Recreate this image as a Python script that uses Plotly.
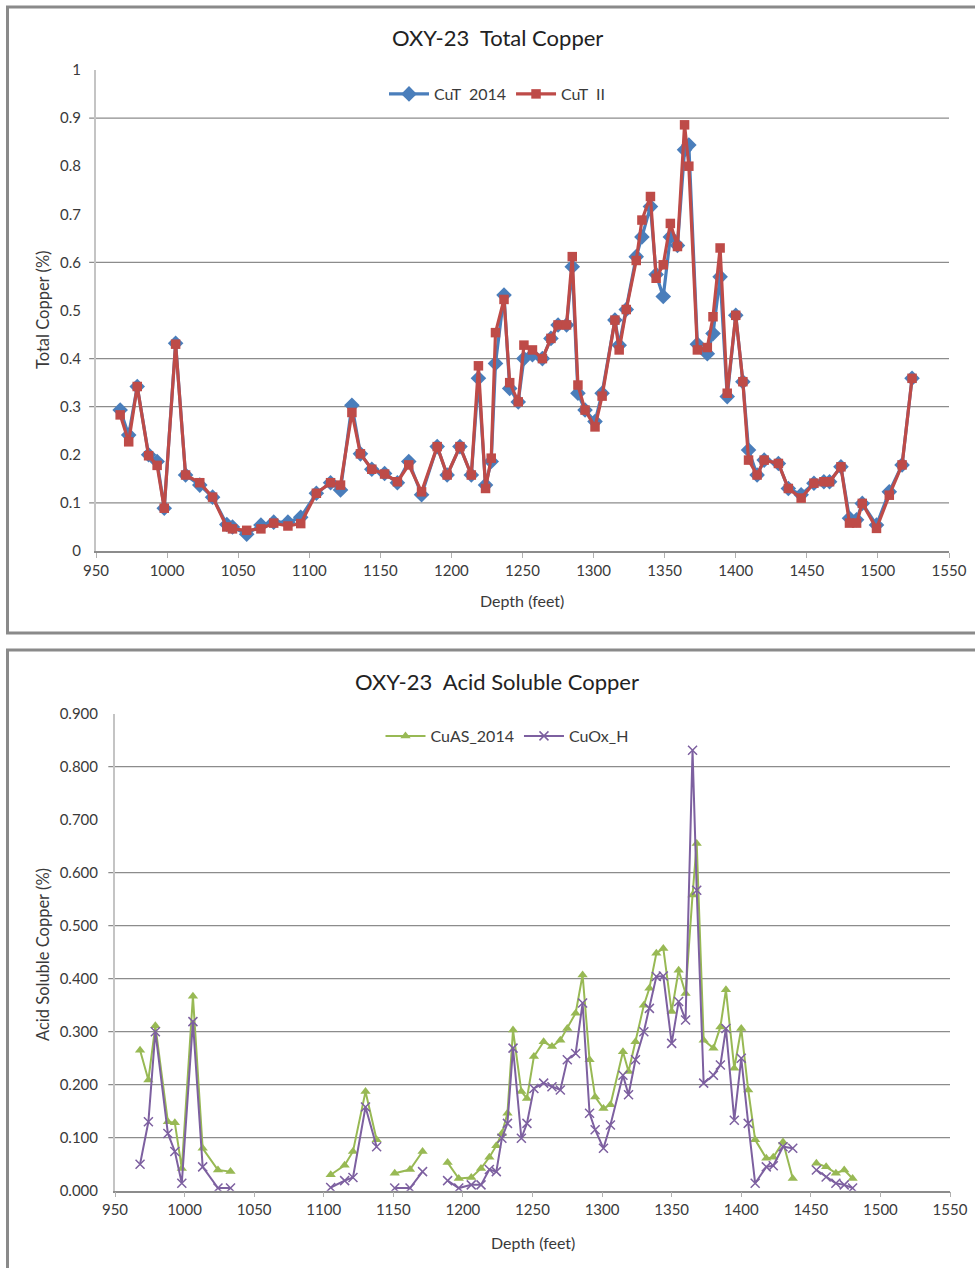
import plotly.graph_objects as go

# ---------------- data: top chart (Total Copper) ----------------
depth_cut = [967, 973, 979, 987, 993, 998, 1006, 1013, 1023, 1032, 1042, 1046, 1056, 1066, 1075,
             1085, 1094, 1105, 1115, 1122, 1130, 1136, 1144, 1153, 1162, 1170, 1179, 1190, 1197, 1206,
             1214, 1219, 1224, 1228, 1231, 1237, 1241, 1247, 1251, 1257, 1264, 1270, 1275, 1281, 1285,
             1289, 1294, 1301, 1306, 1315, 1318, 1323, 1330, 1334, 1340, 1344, 1349, 1354, 1359, 1364,
             1367, 1373, 1380, 1384, 1389, 1394, 1400, 1405, 1409, 1415, 1420, 1430, 1437, 1446, 1455,
             1462, 1466, 1474, 1480, 1485, 1489, 1499, 1508, 1517, 1524]
cut_2014 = [0.293, 0.241, 0.342, 0.200, 0.186, 0.089, 0.432, 0.158, 0.137, 0.112, 0.055, 0.050, 0.035, 0.054, 0.060,
            0.060, 0.070, 0.120, 0.142, 0.127, 0.303, 0.202, 0.170, 0.161, 0.142, 0.186, 0.117, 0.217, 0.158, 0.217,
            0.158, 0.359, 0.137, 0.186, 0.390, 0.532, 0.338, 0.310, 0.400, 0.408, 0.400, 0.442, 0.470, 0.470, 0.591,
            0.328, 0.293, 0.269, 0.328, 0.480, 0.428, 0.502, 0.612, 0.653, 0.716, 0.575, 0.529, 0.653, 0.635, 0.834,
            0.844, 0.430, 0.410, 0.452, 0.570, 0.321, 0.490, 0.352, 0.210, 0.158, 0.189, 0.182, 0.130, 0.117, 0.141,
            0.144, 0.144, 0.175, 0.068, 0.065, 0.099, 0.054, 0.123, 0.179, 0.359]
cut_ii = [0.283, 0.227, 0.342, 0.198, 0.178, 0.089, 0.430, 0.158, 0.142, 0.112, 0.050, 0.046, 0.043, 0.046, 0.058,
          0.052, 0.057, 0.120, 0.142, 0.137, 0.288, 0.202, 0.170, 0.160, 0.144, 0.179, 0.123, 0.217, 0.158, 0.217,
          0.158, 0.385, 0.130, 0.193, 0.454, 0.523, 0.350, 0.310, 0.428, 0.418, 0.400, 0.442, 0.470, 0.470, 0.612,
          0.345, 0.293, 0.258, 0.322, 0.480, 0.418, 0.502, 0.604, 0.688, 0.737, 0.567, 0.595, 0.681, 0.633, 0.886,
          0.800, 0.418, 0.423, 0.487, 0.630, 0.328, 0.490, 0.352, 0.189, 0.158, 0.189, 0.182, 0.130, 0.110, 0.141,
          0.144, 0.144, 0.175, 0.058, 0.058, 0.099, 0.047, 0.116, 0.179, 0.359]

# ---------------- data: bottom chart (Acid Soluble Copper) ----------------
depth_as = [968, 974, 979, 988, 993, 998, 1006, 1013, 1024, 1033, 1060,
            1105, 1115, 1121, 1130, 1138, 1145,
            1151, 1162, 1171, 1180,
            1189, 1197, 1206, 1213, 1219, 1224, 1228, 1232, 1236, 1242, 1246, 1251, 1258, 1264, 1270,
            1275, 1281, 1286, 1291, 1295, 1301, 1306, 1315, 1319, 1324, 1330, 1334, 1339, 1344, 1350,
            1355, 1360, 1365, 1368, 1373, 1380, 1385, 1389, 1395, 1400, 1405, 1410, 1418, 1423, 1430, 1437, 1445,
            1454, 1461, 1468, 1474, 1480]
cuas_2014 = [0.265, 0.209, 0.311, 0.130, 0.128, 0.042, 0.367, 0.080, 0.039, 0.036, None,
             0.030, 0.048, 0.074, 0.187, 0.096, None,
             0.033, 0.040, 0.074, None,
             0.053, 0.023, 0.025, 0.042, 0.063, 0.085, 0.108, 0.146, 0.303, 0.187, 0.174, 0.253, 0.281, 0.272, 0.284,
             0.306, 0.335, 0.407, 0.247, 0.177, 0.155, 0.162, 0.262, 0.225, 0.281, 0.350, 0.382, 0.448, 0.457, 0.338,
             0.416, 0.372, 0.558, 0.655, 0.284, 0.269, 0.309, 0.379, 0.231, 0.306, 0.190, 0.096, 0.061, 0.063, 0.092, 0.023, None,
             0.052, 0.045, 0.033, 0.039, 0.023]
cuox_h = [0.050, 0.130, 0.300, 0.108, 0.074, 0.014, 0.319, 0.045, 0.005, 0.005, None,
          0.006, 0.019, 0.025, 0.158, 0.083, None,
          0.005, 0.005, 0.036, None,
          0.019, 0.005, 0.011, 0.011, 0.040, 0.036, 0.099, 0.127, 0.269, 0.099, 0.127, 0.193, 0.203, 0.196, 0.190,
          0.247, 0.259, 0.354, 0.146, 0.115, 0.080, 0.124, 0.218, 0.181, 0.247, 0.300, 0.344, 0.404, 0.405, 0.278,
          0.357, 0.322, 0.831, 0.567, 0.203, 0.218, 0.237, 0.306, 0.133, 0.250, 0.127, 0.014, 0.045, 0.047, 0.083, 0.080, None,
          0.039, 0.026, 0.014, 0.011, 0.005]

# gridlines that survive in the reference picture
top_grid = [0.1, 0.3, 0.4, 0.6, 0.9]
bottom_grid = [0.1, 0.2, 0.3, 0.4, 0.5, 0.6, 0.8]

W, H = 975, 1268
FONT = "Lato, 'Open Sans', Arial, sans-serif"
TXT = "#3a3a3a"
GRID = "#8c8c8c"


def fx(px):
    return px / W


def fy(py):
    return 1 - py / H


fig = go.Figure()

fig.add_trace(go.Scatter(x=depth_cut, y=cut_2014, name="CuT\u00a0\u00a02014", mode="lines+markers",
                         line=dict(color="#4a7ebb", width=3.2),
                         marker=dict(symbol="diamond", size=12, color="#4a7ebb"),
                         xaxis="x", yaxis="y", legend="legend"))
fig.add_trace(go.Scatter(x=depth_cut, y=cut_ii, name="CuT\u00a0\u00a0II", mode="lines+markers",
                         line=dict(color="#be4b48", width=3.2),
                         marker=dict(symbol="square", size=9.5, color="#be4b48"),
                         xaxis="x", yaxis="y", legend="legend"))
fig.add_trace(go.Scatter(x=depth_as, y=cuas_2014, name="CuAS_2014", mode="lines+markers",
                         line=dict(color="#98b954", width=2), connectgaps=False,
                         marker=dict(symbol="triangle-up", size=9, color="#98b954"),
                         xaxis="x2", yaxis="y2", legend="legend2"))
fig.add_trace(go.Scatter(x=depth_as, y=cuox_h, name="CuOx_H", mode="lines+markers",
                         line=dict(color="#7d60a0", width=2), connectgaps=False,
                         marker=dict(symbol="x-thin", size=9, color="#7d60a0",
                                     line=dict(color="#7d60a0", width=1.5)),
                         xaxis="x2", yaxis="y2", legend="legend2"))

shapes = []
# outer frames
shapes.append(dict(type="rect", xref="paper", yref="paper", x0=fx(7.5), x1=fx(1000), y0=fy(633), y1=fy(7),
                   line=dict(color="#8a8a8a", width=3), fillcolor="rgba(0,0,0,0)", layer="below"))
shapes.append(dict(type="rect", xref="paper", yref="paper", x0=fx(7.5), x1=fx(1000), y0=fy(1300), y1=fy(650),
                   line=dict(color="#8a8a8a", width=3), fillcolor="rgba(0,0,0,0)", layer="below"))
for g in top_grid:
    shapes.append(dict(type="line", xref="x domain", yref="y", x0=-0.008, x1=1, y0=g, y1=g,
                       line=dict(color=GRID, width=1.2), layer="below"))
for g in bottom_grid:
    shapes.append(dict(type="line", xref="x2 domain", yref="y2", x0=-0.008, x1=1, y0=g, y1=g,
                       line=dict(color=GRID, width=1.2), layer="below"))

ann = [
    dict(text="OXY-23\u00a0\u00a0Total Copper", x=fx(497), y=fy(37), font=dict(size=22, color="#222")),
    dict(text="OXY-23\u00a0\u00a0Acid Soluble Copper", x=fx(497), y=fy(681), font=dict(size=22, color="#222")),
    dict(text="Total Copper (%)", x=fx(43), y=fy(310), textangle=-90, font=dict(size=16.5, color=TXT)),
    dict(text="Acid Soluble Copper (%)", x=fx(43), y=fy(955), textangle=-90, font=dict(size=16.5, color=TXT)),
    dict(text="Depth (feet)", x=fx(522), y=fy(601), font=dict(size=16, color=TXT)),
    dict(text="Depth (feet)", x=fx(533), y=fy(1242), font=dict(size=16, color=TXT)),
]
for a in ann:
    a.update(xref="paper", yref="paper", showarrow=False, xanchor="center", yanchor="middle")

axis_common = dict(showgrid=False, zeroline=False, automargin=False,
                   tickfont=dict(size=15, color=TXT, family=FONT))

fig.update_layout(
    width=W, height=H, margin=dict(l=0, r=0, t=0, b=0, autoexpand=False),
    paper_bgcolor="white", plot_bgcolor="white",
    font=dict(family=FONT, color=TXT),
    shapes=shapes, annotations=ann,
    xaxis=dict(domain=[fx(96), fx(949)], range=[950, 1550], dtick=50, anchor="y",
               showline=True, linecolor="#8c8c8c", linewidth=1.5,
               ticks="outside", ticklen=5, tickcolor="#b0b0b0", **axis_common),
    yaxis=dict(domain=[fy(551), fy(70)], range=[0, 1], dtick=0.1, anchor="x",
               showline=True, linecolor="#c4c4c4", linewidth=2, ticks="", ticklabelstandoff=10,
               **axis_common),
    xaxis2=dict(domain=[fx(115), fx(950)], range=[950, 1550], dtick=50, anchor="y2",
                showline=True, linecolor="#8c8c8c", linewidth=1.5,
                ticks="outside", ticklen=5, tickcolor="#b0b0b0", **axis_common),
    yaxis2=dict(domain=[fy(1190.7), fy(713.7)], range=[0, 0.9], dtick=0.1, tickformat=".3f", anchor="x2",
                showline=True, linecolor="#c4c4c4", linewidth=2, ticks="", ticklabelstandoff=12,
                **axis_common),
    legend=dict(orientation="h", x=fx(497), y=fy(94), xanchor="center", yanchor="middle",
                font=dict(size=16, color=TXT), bgcolor="rgba(0,0,0,0)", itemwidth=40),
    legend2=dict(orientation="h", x=fx(507), y=fy(736), xanchor="center", yanchor="middle",
                 font=dict(size=16, color=TXT), bgcolor="rgba(0,0,0,0)", itemwidth=40),
)

# remove the default 8px page margin so the figure fills the 975x1268 window exactly
fig.write_html("out.html", config={"displayModeBar": False},
               post_script="document.body.style.margin='0';document.body.style.overflow='hidden';")
